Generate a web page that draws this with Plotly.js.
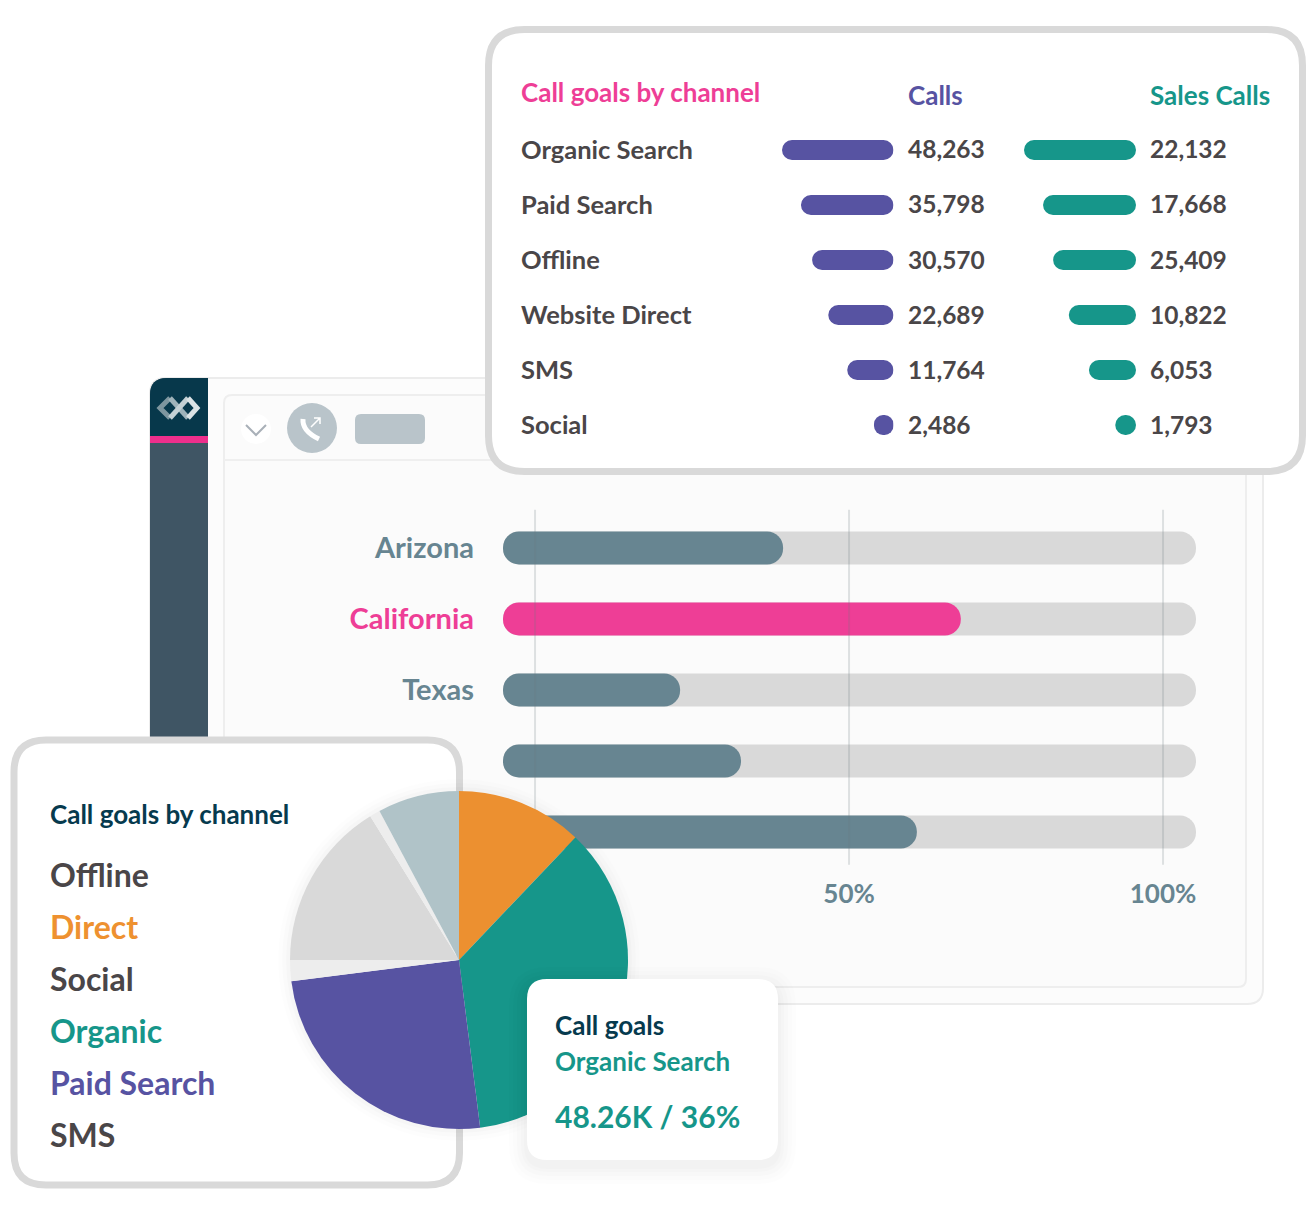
<!DOCTYPE html>
<html>
<head>
<meta charset="utf-8">
<script src="https://cdn.plot.ly/plotly-3.0.1.min.js"></script>
<style>html,body{margin:0;padding:0;background:#fff}#chart{width:1316px;height:1220px}</style>
</head>
<body>
<div id="chart"></div>
<script>
// ---------- data ----------
const channels = ['Organic Search','Paid Search','Offline','Website Direct','SMS','Social'];
const callsText = ['48,263','35,798','30,570','22,689','11,764','2,486'];
const salesText = ['22,132','17,668','25,409','10,822','6,053','1,793'];
const callsBar = [100,83,73,58.5,41.5,17.5];
const salesBar = [100,83,74,60,42,18.5];
const tableHeaders = ['Call goals by channel','Calls','Sales Calls'];

const stateLabels = ['Arizona','California','Texas','',''];
const stateValues = [39.5,67.8,23.1,32.8,60.8];
const stateColors = ['#678591','#ee3e96','#678591','#678591','#678591'];
const trackRange = [-5.1,105.25];
const gridPct = [0,50,100];
const pctTicks = [50,100];
const pctLabels = ['50%','100%'];

const pieNames = ['Direct','Organic Search','Paid Search','SMS','Social','Website Direct','Offline'];
const pieValues = [12.1,35.9,25,2,16.2,1,7.8];
const pieColors = ['#ec9030','#16968a','#5753a2','#ededed','#d9d9d9','#ededed','#b0c3c8'];

const legendTitle = 'Call goals by channel';
const legendNames = ['Offline','Direct','Social','Organic','Paid Search','SMS'];
const legendColors = ['#4a4648','#ee9130','#4a4648','#16968a','#5753a2','#4a4648'];
const tooltipLines = ['Call goals','Organic Search','48.26K / 36%'];

// ---------- helpers ----------
const W = 1316, H = 1220;
const FONT = 'Lato, "Noto Sans", sans-serif';
const INK = '#4a4648', NAVY = '#063a4e', PINK = '#ee3e96', PURPLE = '#5753a2', TEAL = '#16968a';
const domX = (a,b) => [a/W, b/W];
const domY = (top,bot) => [1-bot/H, 1-top/H];

function pill(starts, ends, rows, color, xa, ya, width){
  return {type:'bar', orientation:'h', y:rows, width, xaxis:xa, yaxis:ya,
    base:starts, x:ends.map((e,i)=>e-starts[i]),
    marker:{color, line:{width:0}}, hoverinfo:'skip', showlegend:false};
}
function rr(x0,y0,x1,y1,r){
  return `M${x0+r},${y0} L${x1-r},${y0} Q${x1},${y0} ${x1},${y0+r} L${x1},${y1-r} Q${x1},${y1} ${x1-r},${y1} L${x0+r},${y1} Q${x0},${y1} ${x0},${y1-r} L${x0},${y0+r} Q${x0},${y0} ${x0+r},${y0} Z`;
}
function box(x0,y0,x1,y1,r,fill,lineColor,lineWidth,layer){
  return {type:'path', xref:'x', yref:'y', path:rr(x0,y0,x1,y1,r), fillcolor:fill,
    line:{color:lineColor||'rgba(0,0,0,0)', width:lineWidth||0}, layer:layer||'below'};
}
function stroke(path,color,width,layer){
  return {type:'path', xref:'x', yref:'y', path, fillcolor:'rgba(0,0,0,0)',
    line:{color,width}, layer:layer||'below'};
}
function circle(cx,cy,r,fill){
  return {type:'circle', xref:'x', yref:'y', x0:cx-r, x1:cx+r, y0:cy-r, y1:cy+r,
    fillcolor:fill, line:{width:0}, layer:'below'};
}
function label(text,x,y,size,color,xref,yref,yshift){
  return {text, x:x-2, y, xref:xref||'x', yref:yref||'y', xanchor:'left', yanchor:'middle',
    yshift:yshift||0, showarrow:false, align:'left', font:{family:FONT, size, color, weight:700}};
}

// ---------- traces ----------
const rowIdx = stateLabels.map((_,i)=>i);
const gridX = [], gridY = [];
gridPct.forEach(p=>{gridX.push(p,p,null); gridY.push(-0.54,4.46,null);});
const zeros = a=>a.map(()=>0);

const traces = [
  pill(zeros(callsBar), callsBar, channels, PURPLE, 'x2','y2',0.364),
  pill(zeros(salesBar), salesBar, channels, TEAL, 'x3','y2',0.364),
  pill(rowIdx.map(()=>trackRange[0]), rowIdx.map(()=>trackRange[1]), rowIdx, '#d9d9d9', 'x4','y4',0.465),
  pill(rowIdx.map(()=>trackRange[0]), stateValues, rowIdx, stateColors, 'x4','y4',0.465),
  {type:'scatter', mode:'lines', x:gridX, y:gridY, xaxis:'x4', yaxis:'y4',
   line:{color:'rgba(105,120,125,0.2)', width:2}, hoverinfo:'skip', showlegend:false},
  {type:'pie', labels:pieNames, values:pieValues, sort:false, direction:'clockwise', rotation:0,
   marker:{colors:pieColors, line:{width:0}}, textinfo:'none', hoverinfo:'skip', showlegend:false,
   domain:{x:domX(290,628), y:domY(791,1129)}}
];

// ---------- shapes ----------
const shapes = [
  // application window
  box(150,378,1263,1004,16,'#fcfcfc','#ececec',2),
  box(224,395,1246,987,8,'#fbfbfb','#eeeeee',2),
  stroke('M224,460 L1246,460','#efefef',2),
  // sidebar
  {type:'path', xref:'x', yref:'y', layer:'below', line:{width:0}, fillcolor:'#3f5564',
   path:'M150,395 Q150,378 167,378 L208,378 L208,800 L150,800 Z'},
  {type:'path', xref:'x', yref:'y', layer:'below', line:{width:0}, fillcolor:'#07384b',
   path:'M150,395 Q150,378 167,378 L208,378 L208,437 L150,437 Z'},
  {type:'rect', xref:'x', yref:'y', layer:'below', line:{width:0}, fillcolor:'#ee2f8c', x0:150,x1:208,y0:436,y1:443},
  // logo
  stroke('M170,398 L160,408 L170,418','#7e969f',5),
  stroke('M170,398 L188,418','#9fb3ba',5),
  stroke('M170,418 L188,398','#c3d0d4',5),
  stroke('M188,398 L197,408 L188,418','#dbe3e5',5),
  // toolbar
  circle(256,429,15,'#ffffff'),
  stroke('M246,425 L256,435 L266,425','#a9b0b8',2),
  circle(312,428,25,'#b9c4ca'),
  box(355,414,425,444,6,'#b9c4ca'),
  stroke('M303,419 Q302,431 319,439','#ffffff',5),
  stroke('M311,427 L320,418 M314,418 L320,418 L320,424','#ffffff',1.5),
  // top table card
  box(488.5,29.5,1302.5,471.5,36,'#ffffff','#d9d9d9',7),
  // pie card
  box(14,740,459.5,1185,32,'#ffffff','#d9d9d9',7),
];
// soft shadow of the pie
[[181,0.008],[177,0.012],[173,0.016]].forEach(([r,a])=>shapes.push(circle(459,960,r,`rgba(0,0,0,${a})`)));
// tooltip card and its shadow, above the pie
[[18,0.006],[14,0.008],[10,0.010],[6,0.012],[3,0.012]].forEach(([g,a])=>
  shapes.push(box(527-g,979-g+6,778+g,1160+g+6,20+g,`rgba(0,0,0,${a})`,null,0,'above')));
shapes.push(box(527,979,778,1160,20,'#ffffff',null,0,'above'));

// ---------- annotations ----------
const annotations = [
  label(tableHeaders[0],521,92,26,PINK),
  label(tableHeaders[1],908,95,26,PURPLE),
  label(tableHeaders[2],1150,95,26,TEAL),
  ...channels.map(c=>label(c,521,c,25.5,INK,'x','y2',1)),
  ...channels.map((c,i)=>label(callsText[i],908,c,24.5,INK,'x','y2',1)),
  ...channels.map((c,i)=>label(salesText[i],1150,c,24.5,INK,'x','y2',1)),
  label(legendTitle,50,814,26,NAVY),
  ...legendNames.map((n,i)=>label(n,50,874+52*i,32,legendColors[i])),
  label(tooltipLines[0],555,1025,26,NAVY),
  label(tooltipLines[1],555,1061,26,TEAL),
  label(tooltipLines[2],555,1116,30,TEAL)
];

// ---------- layout ----------
const hidden = {visible:false, fixedrange:true, showgrid:false, zeroline:false};
const layout = {
  width:W, height:H, margin:{l:0,r:0,t:0,b:0,pad:0},
  paper_bgcolor:'#ffffff', plot_bgcolor:'rgba(0,0,0,0)',
  barmode:'overlay', barcornerradius:'50%', showlegend:false,
  font:{family:FONT},
  // full-page canvas for the furniture
  xaxis:Object.assign({}, hidden, {domain:[0,1], range:[0,W], anchor:'y'}),
  yaxis:Object.assign({}, hidden, {domain:[0,1], range:[H,0], anchor:'x'}),
  // table
  xaxis2:Object.assign({}, hidden, {domain:domX(782,893.5), range:[100,0], anchor:'y2'}),
  xaxis3:Object.assign({}, hidden, {domain:domX(1024,1136), range:[100,0], anchor:'y2'}),
  yaxis2:Object.assign({}, hidden, {domain:domY(122.5,452.5), type:'category',
    categoryorder:'array', categoryarray:channels, range:[5.5,-0.5], anchor:'x2'}),
  // state bars
  xaxis4:{domain:domX(503,1196), range:trackRange, anchor:'y4', fixedrange:true, showgrid:false, zeroline:false,
    showline:false, ticks:'', tickmode:'array', tickvals:pctTicks, ticktext:pctLabels,
    tickfont:{family:FONT, size:26, color:'#678591', weight:700}, ticklabelstandoff:8},
  yaxis4:{domain:domY(509,867.5), range:[4.5,-0.549], anchor:'x4', fixedrange:true, showgrid:false, zeroline:false,
    showline:false, ticks:'', tickmode:'array', tickvals:rowIdx,
    ticktext:stateLabels.map((s,i)=> s ? `<span style="color:${stateColors[i]}">${s}</span>` : ' '),
    tickfont:{family:FONT, size:29, color:'#678591', weight:700}, ticklabelstandoff:28},
  shapes, annotations
};

Plotly.newPlot('chart', traces, layout, {displayModeBar:false, responsive:false});
</script>
</body>
</html>
